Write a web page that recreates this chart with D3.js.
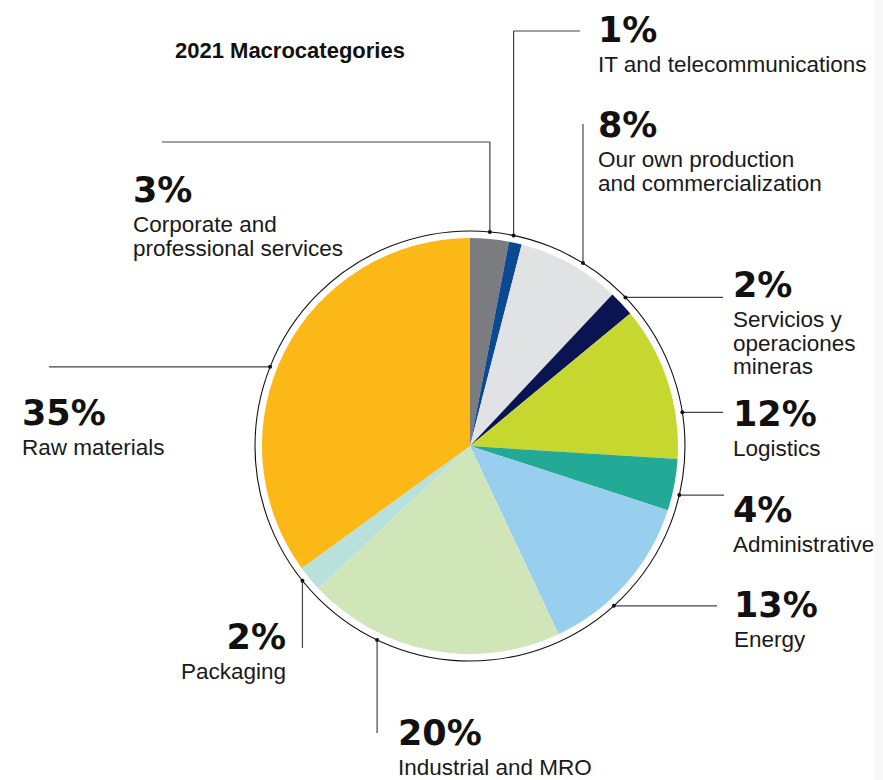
<!DOCTYPE html>
<html>
<head>
<meta charset="utf-8">
<script src="https://cdn.jsdelivr.net/npm/d3@7"></script>
<style>
  body { margin: 0; background: #fff; }
  svg { display: block; }
</style>
</head>
<body>
<div id="chart"></div>
<script>
// data (clockwise from 12 o'clock)
var categories = ["Corporate and professional services", "IT and telecommunications",
  "Our own production and commercialization", "Servicios y operaciones mineras",
  "Logistics", "Administrative", "Energy", "Industrial and MRO", "Packaging", "Raw materials"];
var shares = [3, 1, 8, 2, 12, 4, 13, 20, 2, 35];
var labelLines = [
  ["Corporate and", "professional services"],
  ["IT and telecommunications"],
  ["Our own production", "and commercialization"],
  ["Servicios y", "operaciones", "mineras"],
  ["Logistics"],
  ["Administrative"],
  ["Energy"],
  ["Industrial and MRO"],
  ["Packaging"],
  ["Raw materials"]
];
var colors = ["#7b7c80", "#0b4a92", "#e1e2e4", "#0b1452", "#c6d82f",
  "#22aa96", "#98cfee", "#d0e5b8", "#b8e1dc", "#fbb817"];

var width = 883, height = 780;
var cx = 470, cy = 446, r = 208, ringR = 215;

var svg = d3.select("#chart").append("svg")
    .attr("width", width)
    .attr("height", height);

// faint strip at right edge
svg.append("rect").attr("x", 875).attr("y", 0).attr("width", 8).attr("height", height).attr("fill", "#f8f8f8");

svg.append("text")
    .attr("x", 175).attr("y", 58)
    .style("font-family", "'Liberation Sans', Arial, sans-serif")
    .style("font-weight", "bold")
    .style("font-size", "22px")
    .style("fill", "#111")
    .text("2021 Macrocategories");

var pie = d3.pie().sort(null).value(d => d)(shares);
var arc = d3.arc().innerRadius(0).outerRadius(r);

var g = svg.append("g").attr("transform", "translate(" + cx + "," + cy + ")");
g.selectAll("path.slice")
    .data(pie)
    .enter()
    .append("path")
    .attr("class", "slice")
    .attr("d", arc)
    .attr("fill", (d, i) => colors[i]);

g.append("circle")
    .attr("r", ringR)
    .attr("fill", "none")
    .attr("stroke", "#111")
    .attr("stroke-width", 1.1);

// label layout: anchor angle on ring (deg), leader route, text spot
var layout = [
  {ang: 5.3, route: [["v", 142], ["h", 162]], x: 133, y: 202, anchor: "start"},
  {ang: 11.7, route: [["v", 31], ["h", 580]], x: 598, y: 42, anchor: "start"},
  {ang: 31.7, route: [["v", 124]], x: 598, y: 137, anchor: "start"},
  {ang: 46.3, route: [["h", 723]], x: 733, y: 297, anchor: "start"},
  {ang: 81, route: [["h", 723]], x: 733, y: 426, anchor: "start"},
  {ang: 103.2, route: [["h", 724]], x: 733, y: 522, anchor: "start"},
  {ang: 138, route: [["h", 717]], x: 734, y: 617, anchor: "start"},
  {ang: 205.6, route: [["v", 733]], x: 398, y: 745, anchor: "start"},
  {ang: 231.2, route: [["v", 648]], x: 286, y: 649, anchor: "end"},
  {ang: 291.6, route: [["h", 49]], x: 22, y: 425, anchor: "start"}
];

layout.forEach(function(L, i) {
  var a = L.ang * Math.PI / 180;
  var px = cx + ringR * Math.sin(a), py = cy - ringR * Math.cos(a);
  var pts = [[px, py]];
  var cur = [px, py];
  L.route.forEach(function(s) {
    cur = s[0] === "v" ? [cur[0], s[1]] : [s[1], cur[1]];
    pts.push(cur);
  });
  svg.append("path")
      .attr("d", d3.line()(pts))
      .attr("fill", "none")
      .attr("stroke", "#444")
      .attr("stroke-width", 1.2);
  svg.append("circle")
      .attr("cx", px).attr("cy", py).attr("r", 2)
      .attr("fill", "#111");

  svg.append("text")
      .attr("x", L.x).attr("y", L.y)
      .attr("text-anchor", L.anchor)
      .style("font-family", "'DejaVu Sans', sans-serif")
      .style("font-weight", "bold")
      .style("font-size", "35px")
      .style("fill", "#111")
      .text(shares[i] + "%");

  labelLines[i].forEach(function(line, j) {
    svg.append("text")
        .attr("x", L.x).attr("y", L.y + 30 + j * 23.5)
        .attr("text-anchor", L.anchor)
        .style("font-family", "'Liberation Sans', Arial, sans-serif")
        .style("font-size", "22.5px")
        .style("fill", "#1a1a1a")
        .text(line);
  });
});
</script>
</body>
</html>
